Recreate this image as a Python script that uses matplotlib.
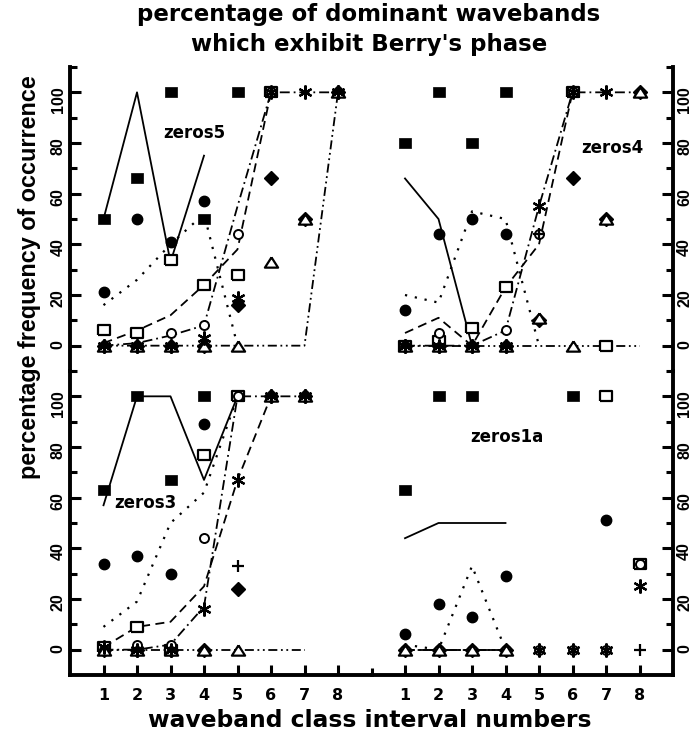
import numpy as np
import matplotlib
matplotlib.use("Agg")
import matplotlib.pyplot as plt
from matplotlib.ticker import FixedLocator

plt.rcParams['font.family'] = ['Liberation Sans', 'DejaVu Sans']
plt.rcParams['font.weight'] = 'bold'
WIDE = ['DejaVu Sans']   # the horizontal texts in the original are wide

nan = np.nan
x_idx = [1, 2, 3, 4, 5, 6, 7, 8]
x_labels = ['1', '2', '3', '4', '5', '6', '7', '8']

# ---- zeros5 (top left) ----
z5_solid = [50, 100, 33, 75]
z5_dotted = [16, 26, 40, 52, 0]
z5_dashed = [1, 6, 12, 24, 38, 100]
z5_dashdot = [0, 1, 4, 8, 55, 100, 100, 100]
z5_dashdotdot = [0, 0, 0, 0, 0, 0, 0, 100]
z5_fsq = [50, 66, 100, 50, 100, 100, nan, nan]
z5_fci = [21, 50, 41, 57, nan, nan, nan, nan]
z5_osq = [6, 5, 34, 24, 28, 100, nan, nan]
z5_oci = [0, 0, 5, 8, 44, 100, nan, nan]
z5_star = [0, 0, 0, 3, 19, 100, 100, 100]
z5_plus = [nan] * 8
z5_fdi = [0, 0, 0, 0, 16, 66, 50, 100]
z5_otr = [0, 0, 0, 0, 0, 33, 50, 100]

# ---- zeros4 (top right) ----
z4_solid = [66, 50, 0]
z4_dotted = [20, 17, 53, 50, 0]
z4_dashed = [5, 11, 0, 23, 40, 100]
z4_dashdot = [0, 0, 0, 6, 55, 100, 100, 100]
z4_dashdotdot = [0, 0, 0, 0, 0, 0, 0, 0]
z4_fsq = [80, 100, 80, 100, nan, 100, nan, nan]
z4_fci = [14, 44, 50, 44, nan, nan, nan, nan]
z4_osq = [0, 2, 7, 23, nan, 100, 0, nan]
z4_oci = [0, 5, 0, 6, 44, 100, nan, nan]
z4_star = [0, 0, 0, 0, 55, 100, 100, nan]
z4_plus = [nan, nan, nan, nan, 44, nan, nan, nan]
z4_fdi = [0, 0, 0, 0, 10, 66, 50, 100]
z4_otr = [0, 0, 0, 0, 11, 0, 50, 100]

# ---- zeros3 (bottom left) ----
z3_solid = [57, 100, 100, 67, 100]
z3_dotted = [9, 19, 50, 62, 100]
z3_dashed = [1, 9, 11, 25, 67, 100]
z3_dashdot = [0, 0, 2, 17, 100, 100, 100]
z3_dashdotdot = [0, 0, 0, 0, 0, 0, 0]
z3_fsq = [63, 100, 67, 100, 100, nan, nan, nan]
z3_fci = [34, 37, 30, 89, nan, nan, nan, nan]
z3_osq = [1, 9, 0, 77, 100, nan, nan, nan]
z3_oci = [0, 2, 2, 44, 100, nan, nan, nan]
z3_star = [1, 0, 0, 16, 67, 100, 100, nan]
z3_plus = [nan, nan, nan, nan, 33, nan, nan, nan]
z3_fdi = [0, 0, 0, 0, 24, 100, 100, nan]
z3_otr = [0, 0, 0, 0, 0, 100, 100, nan]

# ---- zeros1a (bottom right) ----
z1_solid = [44, 50, 50, 50]
z1_dotted = [2, 0, 33, 0]
z1_dashed = [0, 0, 0, 0]
z1_dashdot = [0, 0, 0, 0]
z1_dashdotdot = [0, 0, 0, 0]
z1_fsq = [63, 100, 100, nan, nan, 100, nan, nan]
z1_fci = [6, 18, 13, 29, nan, nan, 51, nan]
z1_osq = [nan, nan, nan, nan, nan, nan, 100, 34]
z1_oci = [0, 0, 0, 0, 0, 0, 0, 34]
z1_star = [nan, nan, nan, nan, 0, 0, 0, 25]
z1_plus = [nan, nan, nan, nan, nan, nan, nan, 0]
z1_fdi = [0, 0, 0, 0, nan, nan, nan, nan]
z1_otr = [0, 0, 0, 0, nan, nan, nan, nan]

styles = {
    'solid': '-',
    'dotted': (0, (1, 3.5)),
    'dashed': (0, (5, 3)),
    'dashdot': (0, (5.5, 2.2, 1, 2.2)),
    'dashdotdot': (0, (5, 2, 1, 2, 1, 2)),
}

# slightly wide square and flat triangle, as in the original
sq_mark = [(-1, -0.86), (1, -0.86), (1, 0.86), (-1, 0.86), (-1, -0.86)]
tri_mark = [(0, 0.78), (-1, -0.78), (1, -0.78), (0, 0.78)]


def draw_panel(ax, lines, marks, label, label_xy):
    for key, vals in lines:
        lw = 1.6 if key == 'dotted' else 1.3
        ax.plot(x_idx[:len(vals)], vals, color='black', lw=lw,
                linestyle=styles[key], zorder=2)
    fsq, fci, osq, oci, star, plus, fdi, otr = marks
    kw = dict(linestyle='none', clip_on=False)
    ax.plot(x_idx, fdi, marker='D', ms=7.5, mfc='black', mec='black', zorder=3, **kw)
    ax.plot(x_idx, fsq, marker=sq_mark, ms=9, mfc='black', mec='black', mew=0.5, zorder=3, **kw)
    ax.plot(x_idx, fci, marker='o', ms=7.5, mfc='black', mec='black', zorder=3, **kw)
    ax.plot(x_idx, osq, marker=sq_mark, ms=9, mfc='white', mec='black', mew=1.6, zorder=4, **kw)
    ax.plot(x_idx, oci, marker='o', ms=6.5, mfc='white', mec='black', mew=1.4, zorder=5, **kw)
    ax.plot(x_idx, otr, marker=tri_mark, ms=9.5, mfc='white', mec='black', mew=1.6, zorder=6, **kw)
    ax.plot(x_idx, star, marker=(6, 2, 0), ms=10, mec='black', mew=1.6, zorder=7, **kw)
    ax.plot(x_idx, plus, marker='+', ms=9, mec='black', mew=1.6, zorder=8, **kw)
    ax.text(label_xy[0], label_xy[1], label, ha='center', va='center',
            fontsize=12, fontweight='bold', family=WIDE)


fig = plt.figure(figsize=(6.98, 7.35), dpi=100)
L, B = 70 / 698, 60 / 735
W, H = 301.5 / 698, 304 / 735
ax_tl = fig.add_axes([L, B + H, W, H])
ax_tr = fig.add_axes([L + W, B + H, W, H])
ax_bl = fig.add_axes([L, B, W, H])
ax_br = fig.add_axes([L + W, B, W, H])

for ax in (ax_tl, ax_tr, ax_bl, ax_br):
    ax.set_xlim(0, 9)
    ax.set_ylim(-10, 110)
    ax.patch.set_visible(False)
    for s in ax.spines.values():
        s.set_visible(False)
        s.set_linewidth(2.8)
    ax.set_yticks([0, 20, 40, 60, 80, 100])
    ax.yaxis.set_minor_locator(FixedLocator([-10, 10, 30, 50, 70, 90, 110]))
    ax.tick_params(axis='both', which='both', direction='in', width=2.2,
                   labelsize=11.5)
    ax.tick_params(axis='both', which='major', length=8)
    ax.tick_params(axis='both', which='minor', length=5)
    ax.tick_params(axis='y', labelrotation=90, pad=3)

for ax in (ax_tl, ax_bl):
    ax.spines['left'].set_visible(True)
    ax.yaxis.set_ticks_position('left')
for ax in (ax_tr, ax_br):
    ax.spines['right'].set_visible(True)
    ax.yaxis.set_ticks_position('right')
    ax.tick_params(axis='y', labelleft=False, labelright=True)
for ax in (ax_tl, ax_tr):
    ax.set_xticks([])
    ax.tick_params(axis='x', which='both', bottom=False, labelbottom=False)
for ax in (ax_bl, ax_br):
    ax.spines['bottom'].set_visible(True)
    ax.set_xticks(x_idx)
    ax.set_xticklabels(x_labels, family=WIDE, fontsize=11.5, fontweight='bold')
    ax.tick_params(axis='x', which='major', length=7, pad=9)
ax_bl.xaxis.set_minor_locator(FixedLocator([9]))
ax_br.xaxis.set_minor_locator(FixedLocator([]))
for ax in (ax_bl, ax_br):
    ax.yaxis.set_minor_locator(FixedLocator([10, 30, 50, 70, 90]))

draw_panel(ax_tl,
           [('solid', z5_solid), ('dotted', z5_dotted), ('dashed', z5_dashed),
            ('dashdot', z5_dashdot), ('dashdotdot', z5_dashdotdot)],
           [z5_fsq, z5_fci, z5_osq, z5_oci, z5_star, z5_plus, z5_fdi, z5_otr],
           'zeros5', (3.7, 84))
draw_panel(ax_tr,
           [('solid', z4_solid), ('dotted', z4_dotted), ('dashed', z4_dashed),
            ('dashdot', z4_dashdot), ('dashdotdot', z4_dashdotdot)],
           [z4_fsq, z4_fci, z4_osq, z4_oci, z4_star, z4_plus, z4_fdi, z4_otr],
           'zeros4', (7.2, 78))
draw_panel(ax_bl,
           [('solid', z3_solid), ('dotted', z3_dotted), ('dashed', z3_dashed),
            ('dashdot', z3_dashdot), ('dashdotdot', z3_dashdotdot)],
           [z3_fsq, z3_fci, z3_osq, z3_oci, z3_star, z3_plus, z3_fdi, z3_otr],
           'zeros3', (2.25, 58))
draw_panel(ax_br,
           [('solid', z1_solid), ('dotted', z1_dotted), ('dashed', z1_dashed),
            ('dashdot', z1_dashdot), ('dashdotdot', z1_dashdotdot)],
           [z1_fsq, z1_fci, z1_osq, z1_oci, z1_star, z1_plus, z1_fdi, z1_otr],
           'zeros1a', (4.05, 84))

fig.text(369 / 698, 1 - 21.5 / 735, 'percentage of dominant wavebands',
         ha='center', va='baseline', fontsize=16.5, fontweight='bold', family=WIDE)
fig.text(369 / 698, 1 - 50.5 / 735, "which exhibit Berry's phase",
         ha='center', va='baseline', fontsize=16.5, fontweight='bold', family=WIDE)
fig.text(370 / 698, 1 - 727 / 735, 'waveband class interval numbers',
         ha='center', va='baseline', fontsize=16.8, fontweight='bold', family=WIDE)
fig.text(30 / 698, 1 - 277 / 735, 'percentage frequency of occurrence',
         ha='center', va='center', rotation=90, fontsize=16.8, fontweight='bold')

fig.savefig('out.png', dpi=100)
